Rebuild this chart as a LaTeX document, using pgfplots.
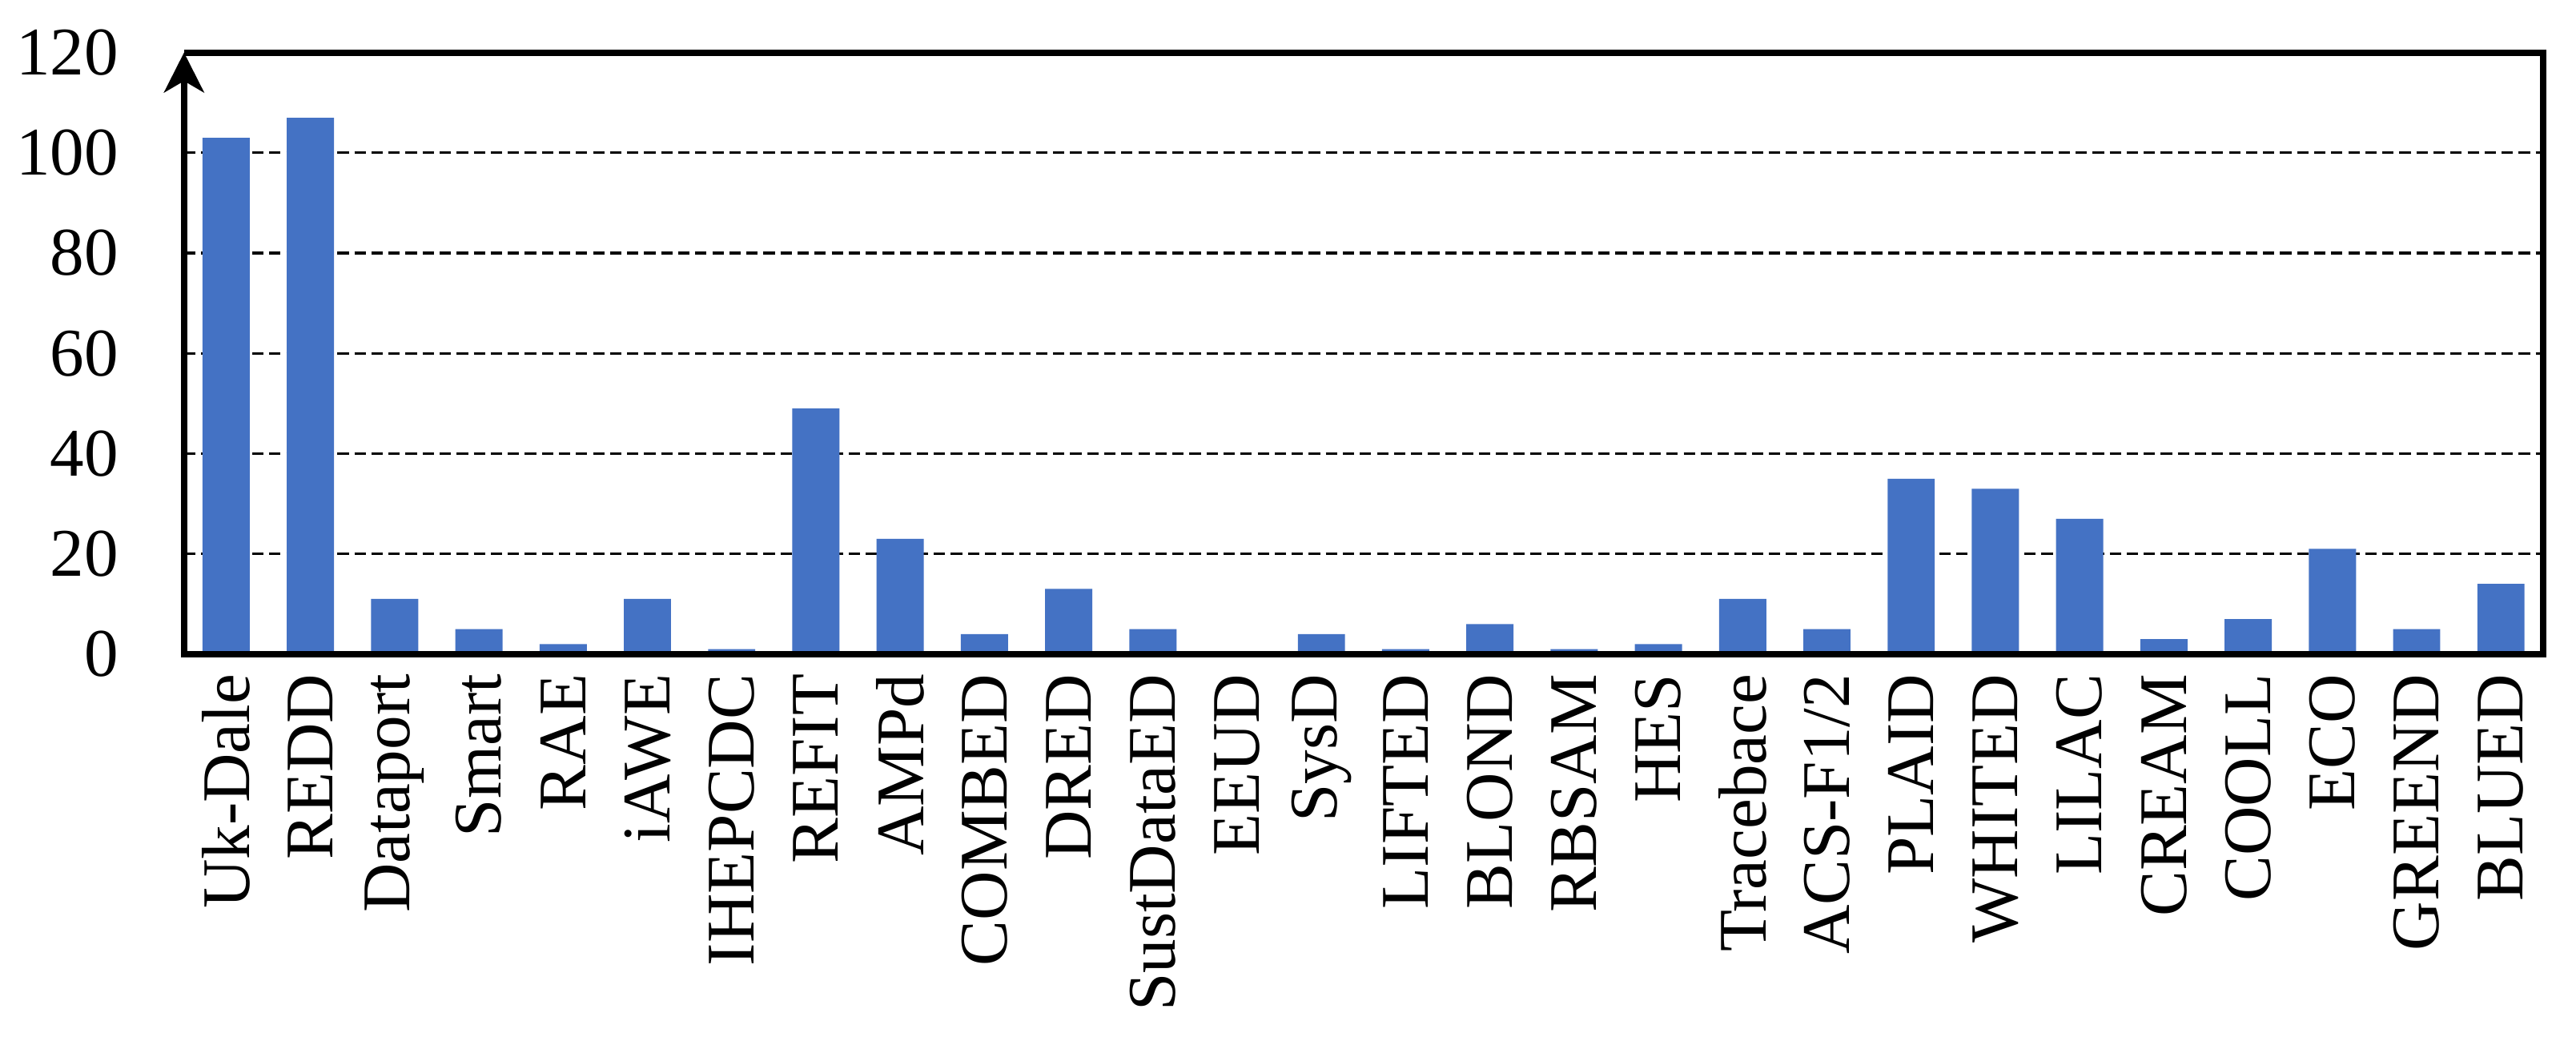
\documentclass[border=0pt]{standalone}
\usepackage{pgfplots}
\pgfplotsset{compat=1.18}
\usepackage{fontspec}
\setmainfont{Liberation Serif}
\usetikzlibrary{arrows.meta}
\definecolor{barblue}{HTML}{4472C4}
\begin{document}
\begin{tikzpicture}
\begin{axis}[
  scale only axis, width=415.3pt, height=105.9pt,
  xmin=-0.5, xmax=27.5, ymin=0, ymax=120,
  clip=false,
  ytick={0,20,...,120},
  xtick={0,...,27},
  xticklabels={Uk-Dale,REDD,Dataport,Smart,RAE,iAWE,IHEPCDC,REFIT,AMPd,COMBED,DRED,SustDataED,EEUD,SysD,LIFTED,BLOND,RBSAM,HES,Tracebace,ACS-F1/2,PLAID,WHITED,LILAC,CREAM,COOLL,ECO,GREEND,BLUED},
  x tick label style={rotate=90, anchor=east, font=\fontsize{12}{14}\selectfont},
  y tick label style={font=\fontsize{12}{14}\selectfont, xshift=-8pt},
  /pgf/number format/assume math mode=true,
  major tick length=0pt,
  ymajorgrids,
  grid style={dash pattern=on 2pt off 1pt, line width=0.45pt, black},
  axis line style={draw=none},
]
\addplot[ybar, bar width=0.56, fill=barblue, draw=none] coordinates {
(0,103) (1,107) (2,11) (3,5) (4,2) (5,11) (6,1) (7,49) (8,23) (9,4)
(10,13) (11,5) (12,0) (13,4) (14,1) (15,6) (16,1) (17,2) (18,11) (19,5)
(20,35) (21,33) (22,27) (23,3) (24,7) (25,21) (26,5) (27,14)
};
\draw[line width=1.1pt, line join=miter] (rel axis cs:0,0) -- (rel axis cs:1,0) -- (rel axis cs:1,1) -- (rel axis cs:0,1);
\draw[line width=1.2pt, line cap=rect, -{Stealth[length=7pt,width=7pt,inset=2pt]}] (rel axis cs:0,0) -- (rel axis cs:0,1);
\end{axis}
\pgfresetboundingbox
\path (-32.4pt,-67.4pt) rectangle (421.1pt,115.15pt);
\end{tikzpicture}
\end{document}
